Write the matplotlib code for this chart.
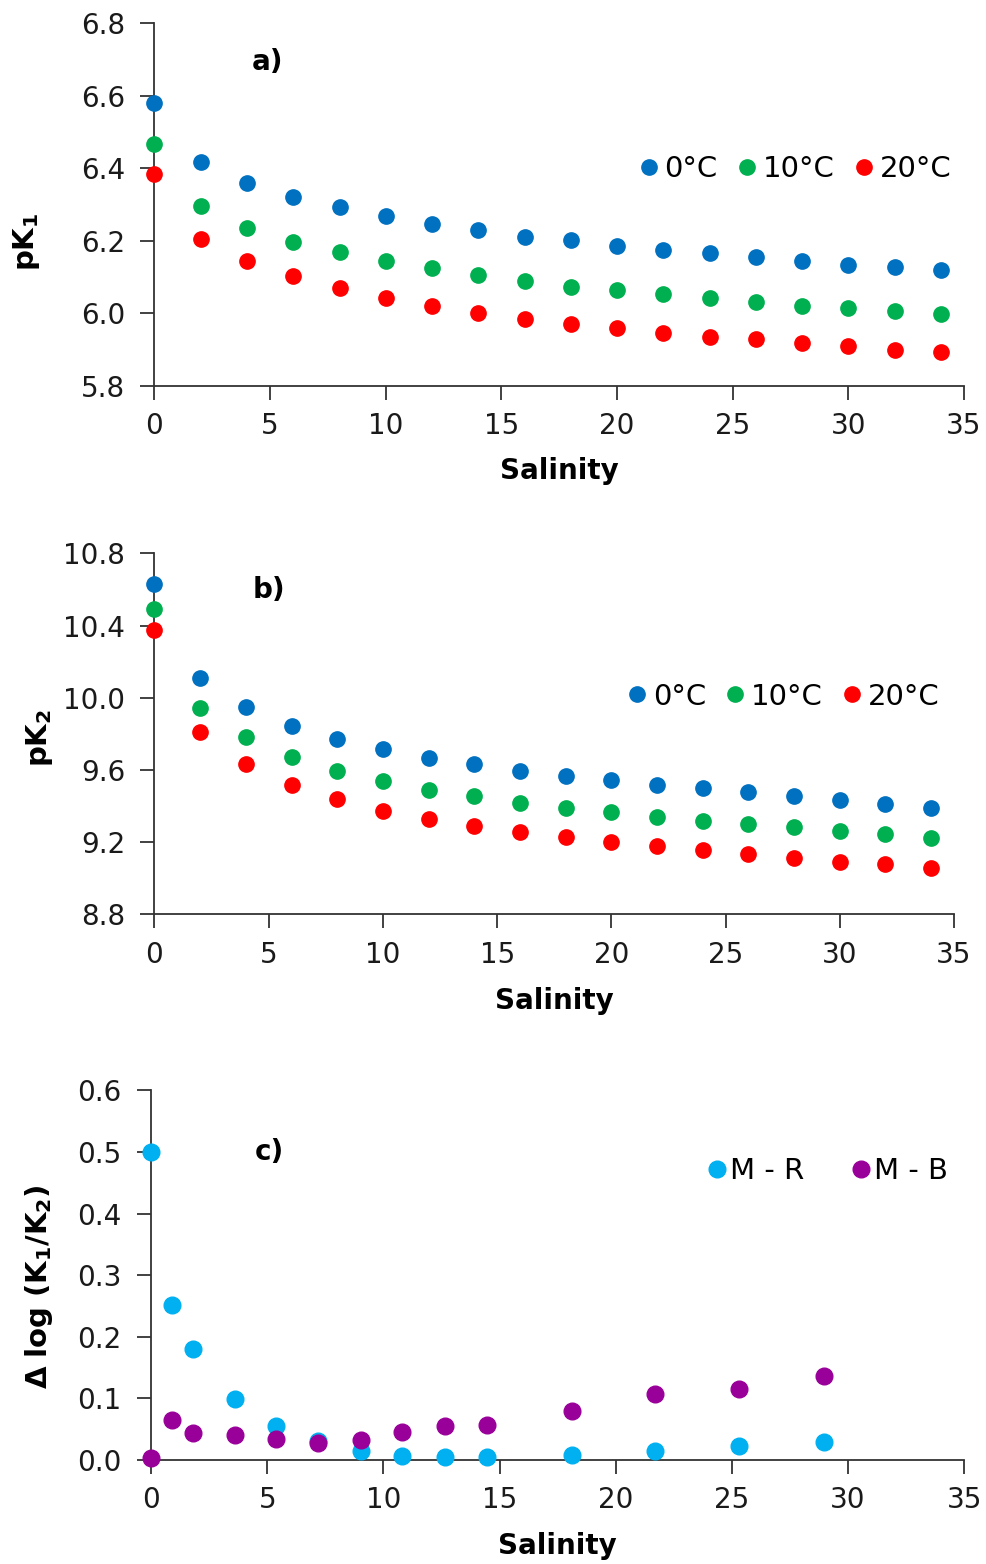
import matplotlib
matplotlib.use('Agg')
import matplotlib.pyplot as plt
from matplotlib.ticker import MultipleLocator, FormatStrFormatter

# salinity for panels a) and b)
sal = [0, 2, 4, 6, 8, 10, 12, 14, 16, 18, 20, 22, 24, 26, 28, 30, 32, 34]

pk1_0 = [6.579, 6.416, 6.360, 6.321, 6.292, 6.268, 6.247, 6.229, 6.211, 6.202,
         6.186, 6.176, 6.166, 6.155, 6.145, 6.134, 6.127, 6.120]
pk1_10 = [6.466, 6.296, 6.236, 6.197, 6.169, 6.145, 6.124, 6.105, 6.088, 6.074,
          6.064, 6.053, 6.043, 6.032, 6.021, 6.014, 6.007, 5.997]
pk1_20 = [6.385, 6.204, 6.145, 6.102, 6.070, 6.043, 6.021, 6.002, 5.985, 5.971,
          5.960, 5.946, 5.935, 5.929, 5.919, 5.911, 5.900, 5.894]

pk2_0 = [10.632, 10.107, 9.950, 9.843, 9.773, 9.716, 9.666, 9.631, 9.596, 9.568,
         9.546, 9.518, 9.498, 9.476, 9.455, 9.433, 9.413, 9.391]
pk2_10 = [10.490, 9.941, 9.781, 9.673, 9.596, 9.539, 9.490, 9.455, 9.418, 9.391,
          9.368, 9.341, 9.319, 9.299, 9.285, 9.261, 9.243, 9.221]
pk2_20 = [10.375, 9.808, 9.631, 9.514, 9.439, 9.374, 9.326, 9.291, 9.256, 9.228,
          9.199, 9.177, 9.156, 9.134, 9.114, 9.091, 9.079, 9.057]

# panel c)
sal_c = [0, 0.9, 1.8, 3.6, 5.4, 7.2, 9.05, 10.8, 12.65, 14.45, 18.1, 21.7, 25.3, 28.95]
m_r = [0.500, 0.252, 0.180, 0.099, 0.055, 0.031, 0.015, 0.0065, 0.0054, 0.0054,
       0.008, 0.015, 0.023, 0.030]
m_b = [0.003, 0.065, 0.044, 0.040, 0.034, 0.027, 0.033, 0.046, 0.055, 0.057,
       0.080, 0.107, 0.116, 0.136]

BLUE, GREEN, RED = '#0070C0', '#00B050', '#FF0000'
CYAN, PURPLE = '#00B0F0', '#990099'
SPINE = '#333333'

plt.rcParams['font.family'] = ['DejaVu Sans']

fig = plt.figure(figsize=(9.87, 15.64), dpi=100)
ax_a = fig.add_axes([0.1565, 0.7532, 0.8202, 0.2321])
ax_b = fig.add_axes([0.1565, 0.4154, 0.8101, 0.2308])
ax_c = fig.add_axes([0.1530, 0.0665, 0.8240, 0.2364])


def style(ax, ymin, ymax, ystep):
    ax.set_xlim(0, 35)
    ax.set_ylim(ymin, ymax)
    ax.xaxis.set_major_locator(MultipleLocator(5))
    ax.yaxis.set_major_locator(MultipleLocator(ystep))
    ax.yaxis.set_major_formatter(FormatStrFormatter('%.1f'))
    ax.spines[['top', 'right']].set_visible(False)
    for s in ['left', 'bottom']:
        ax.spines[s].set_color(SPINE)
        ax.spines[s].set_linewidth(1.3)
    ax.tick_params(axis='both', direction='out', length=10, width=1.3,
                   color=SPINE, labelsize=20, labelcolor='#1a1a1a')
    ax.tick_params(axis='y', pad=11)
    ax.tick_params(axis='x', pad=9)
    ax.set_xlabel('Salinity', fontsize=20, fontweight='bold')


def legend(ax, x, y):
    ax.legend(loc='center right', bbox_to_anchor=(x, y), ncol=3, frameon=False,
              fontsize=21, handlelength=0.5, handletextpad=0.3,
              columnspacing=0.75, borderpad=0, borderaxespad=0)


# a)
style(ax_a, 5.8, 6.8, 0.2)
for vals, c, lab in [(pk1_0, BLUE, '0°C'), (pk1_10, GREEN, '10°C'), (pk1_20, RED, '20°C')]:
    ax_a.plot(sal, vals, 'o', ms=11, color=c, label=lab, clip_on=False, zorder=3)
legend(ax_a, 0.985, 0.598)
ax_a.text(0.14, 0.893, 'a)', transform=ax_a.transAxes, fontsize=20,
          fontweight='bold', ha='center', va='center')
ax_a.set_ylabel(r'$\mathbf{pK_1}$', fontsize=21)
ax_a.yaxis.set_label_coords(-0.139, 0.397)
ax_a.xaxis.set_label_coords(0.5, -0.195)

# b)
style(ax_b, 8.8, 10.8, 0.4)
for vals, c, lab in [(pk2_0, BLUE, '0°C'), (pk2_10, GREEN, '10°C'), (pk2_20, RED, '20°C')]:
    ax_b.plot(sal, vals, 'o', ms=11, color=c, label=lab, clip_on=False, zorder=3)
legend(ax_b, 0.9825, 0.603)
ax_b.text(0.143, 0.898, 'b)', transform=ax_b.transAxes, fontsize=20,
          fontweight='bold', ha='center', va='center')
ax_b.set_ylabel(r'$\mathbf{pK_2}$', fontsize=21)
ax_b.yaxis.set_label_coords(-0.124, 0.488)
ax_b.xaxis.set_label_coords(0.5, -0.2)

# c)
style(ax_c, 0.0, 0.6, 0.1)
ax_c.plot(sal_c, m_r, 'o', ms=12, color=CYAN, label='M - R', clip_on=False, zorder=3)
ax_c.plot(sal_c, m_b, 'o', ms=12, color=PURPLE, label='M - B', clip_on=False, zorder=3)
ax_c.legend(loc='center right', bbox_to_anchor=(0.98, 0.782), ncol=2, frameon=False,
            fontsize=21, handlelength=0.5, handletextpad=0.2,
            columnspacing=1.7, borderpad=0, borderaxespad=0)
ax_c.text(0.146, 0.834, 'c)', transform=ax_c.transAxes, fontsize=20,
          fontweight='bold', ha='center', va='center')
ax_c.set_ylabel(r'$\mathbf{\Delta\ log\ (K_1/K_2)}$', fontsize=21)
ax_c.yaxis.set_label_coords(-0.118, 0.468)
ax_c.xaxis.set_label_coords(0.5, -0.195)

fig.savefig('out.png', dpi=100)
